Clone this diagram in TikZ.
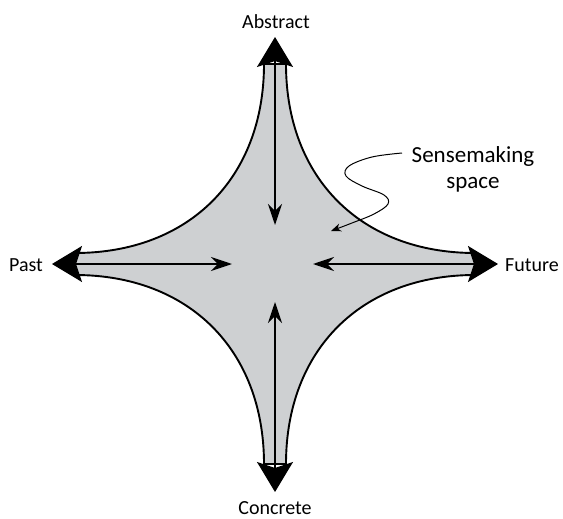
\documentclass[tikz,border=0pt]{standalone}
\usepackage{fontspec}
\setmainfont{Carlito}
\usetikzlibrary{arrows.meta}
\definecolor{spacegray}{RGB}{206,208,210}
\tikzset{
  outline/.style={draw=black,line width=1.9pt,fill=spacegray,line join=round},
  axisline/.style={line width=1.5pt,{Stealth[length=30pt,width=36pt,inset=6pt]}-{Stealth[length=21pt,width=14pt,inset=7pt]}},
  pole/.style={font=\fontsize{20}{24}\selectfont,anchor=base,inner sep=0pt},
  note/.style={font=\fontsize{23}{28}\selectfont,align=center,inner sep=0pt},
  squiggle/.style={line width=1pt,-{Stealth[length=10pt,width=8pt,inset=3pt]}}
}
\begin{document}
\begin{tikzpicture}[x=1pt,y=-1pt]
\useasboundingbox (0,0) rectangle (563,519);
% sensemaking space shape
\path[outline] (286,64) .. controls (286,178) and (361,253) .. (475,253)
  -- (475,275)
  .. controls (361,275) and (286,350) .. (286,464)
  -- (264,464)
  .. controls (264,350) and (189,275) .. (75,275)
  -- (75,253)
  .. controls (189,253) and (264,178) .. (264,64)
  -- cycle;
% end points
\coordinate (topOut) at (275,37);
\coordinate (topIn) at (275,225);
\coordinate (botOut) at (275,492);
\coordinate (botIn) at (275,302);
\coordinate (leftOut) at (52,264);
\coordinate (leftIn) at (232,264);
\coordinate (rightOut) at (498,264);
\coordinate (rightIn) at (313,264);
\draw[axisline] (topOut) -- (topIn);
\draw[axisline] (botOut) -- (botIn);
\draw[axisline] (leftOut) -- (leftIn);
\draw[axisline] (rightOut) -- (rightIn);
% labels
\node[pole] (abstract) at (276,29) {Abstract};
\node[pole] (concrete) at (275,514) {Concrete};
\node[pole] (past) at (26,271) {Past};
\node[pole] (future) at (532,271) {Future};
\node[note,anchor=base] (sense) at (473,162) {Sensemaking};
\node[note,anchor=base] (space) at (473,189) {space};
\coordinate (sqStart) at (402,153);
\coordinate (sqEnd) at (331,231);
\draw[squiggle] plot[smooth,tension=0.6] coordinates {(sqStart) (372,157) (349,166) (346,176) (362,186) (384,195) (388,204) (374,214) (352,223) (sqEnd)};
\end{tikzpicture}
\end{document}
